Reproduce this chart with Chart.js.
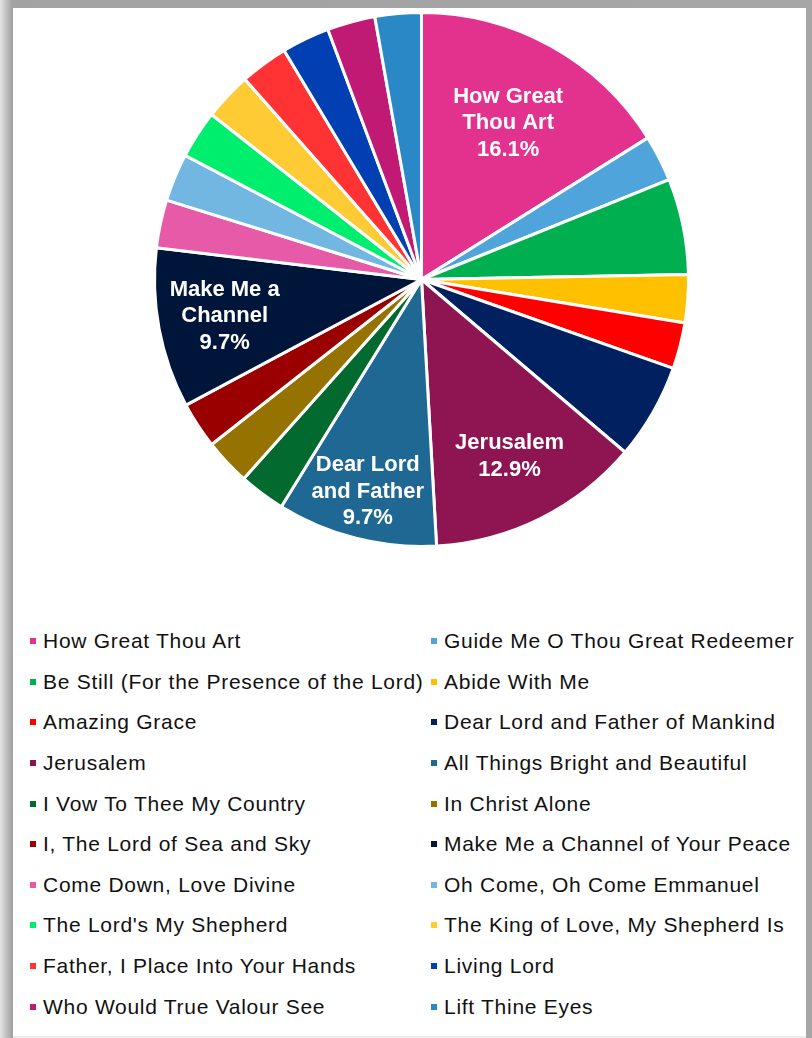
<!DOCTYPE html>
<html>
<head>
<meta charset="utf-8">
<script src="https://cdn.jsdelivr.net/npm/chart.js@4.4.1/dist/chart.umd.min.js"></script>
<style>
    html, body {
        margin: 0;
        padding: 0;
    }
    body {
        width: 812px;
        height: 1038px;
        position: relative;
        overflow: hidden;
        background: linear-gradient(to right, #e4e4e4 0px, #a2a2a2 12px, #a6a6a6 100%);
        font-family: "Liberation Sans", Arial, sans-serif;
    }
    .card {
        position: absolute;
        left: 13px;
        top: 8px;
        width: 793px;
        height: 1028px;
        background: #ffffff;
        border-bottom: 2px solid #ececec;
    }
    .chart-box {
        position: absolute;
        left: 0;
        top: 0;
        width: 812px;
        height: 560px;
    }
    #legend {
        position: absolute;
        left: 0;
        top: 621px;
        width: 812px;
        display: grid;
        grid-template-columns: 401px 411px;
        grid-auto-rows: 40.6px;
    }
    .legend-item {
        display: flex;
        align-items: center;
        padding-left: 30px;
        font-size: 21px;
        letter-spacing: 0.72px;
        color: #111;
        white-space: nowrap;
    }
    .legend-item span.box {
        width: 6px;
        height: 6px;
        margin-right: 7px;
        flex: none;
    }
</style>
</head>
<body>
<div class="card"></div>
<div class="chart-box"><canvas id="hymnChart"></canvas></div>
<div id="legend"></div>

<script>
// Judul lagu (urutan searah jarum jam dari atas)
const hymns = [
    'How Great Thou Art',
    'Guide Me O Thou Great Redeemer',
    'Be Still (For the Presence of the Lord)',
    'Abide With Me',
    'Amazing Grace',
    'Dear Lord and Father of Mankind',
    'Jerusalem',
    'All Things Bright and Beautiful',
    'I Vow To Thee My Country',
    'In Christ Alone',
    'I, The Lord of Sea and Sky',
    'Make Me a Channel of Your Peace',
    'Come Down, Love Divine',
    'Oh Come, Oh Come Emmanuel',
    "The Lord's My Shepherd",
    'The King of Love, My Shepherd Is',
    'Father, I Place Into Your Hands',
    'Living Lord',
    'Who Would True Valour See',
    'Lift Thine Eyes'
];

// Persentase tiap lagu
const shares = [16.1, 2.8, 5.8, 2.9, 2.8, 5.8, 12.9, 9.7, 2.8, 2.8, 2.8, 9.7, 2.9, 2.9, 2.9, 2.9, 2.9, 2.9, 2.9, 2.8];

// Warna tiap potongan
const sliceColors = [
    '#E3318E', '#4FA5DB', '#00B050', '#FFC000', '#FF0000',
    '#002060', '#8E1552', '#206894', '#036A2F', '#967200',
    '#9A0000', '#00153A', '#E75AA8', '#72B7E2', '#00EE6E',
    '#FECB34', '#FF3333', '#013FB2', '#C11A75', '#2A88C6'
];

// Label di dalam potongan (hanya yang besar)
const sliceLabels = {
    0: ['How Great', 'Thou Art'],
    6: ['Jerusalem'],
    7: ['Dear Lord', 'and Father'],
    11: ['Make Me a', 'Channel']
};

// Plugin sederhana untuk menggambar label di dalam pie
const insideLabels = {
    id: 'insideLabels',
    afterDatasetsDraw(chart, args, opts) {
        const ctx = chart.ctx;
        const meta = chart.getDatasetMeta(0);
        const values = chart.data.datasets[0].data;
        const total = values.reduce((a, b) => a + b, 0);

        ctx.save();
        ctx.fillStyle = '#ffffff';
        ctx.font = 'bold 22px "Liberation Sans", Arial, sans-serif';
        ctx.textAlign = 'center';
        ctx.textBaseline = 'middle';

        Object.keys(sliceLabels).forEach(key => {
            const i = Number(key);
            const arc = meta.data[i];
            const mid = (arc.startAngle + arc.endAngle) / 2;
            const dist = arc.outerRadius * (opts.radial[i] || 0.7);
            const cx = arc.x + Math.cos(mid) * dist;
            const cy = arc.y + Math.sin(mid) * dist;

            const lines = sliceLabels[i].concat([(values[i] / total * 100).toFixed(1) + '%']);
            const lh = 26.5;
            const top = cy - (lines.length - 1) * lh / 2;
            lines.forEach((line, n) => {
                ctx.fillText(line, cx, top + n * lh);
            });
        });
        ctx.restore();
    }
};

const ctxHymn = document.getElementById('hymnChart').getContext('2d');
let hymnChart = new Chart(ctxHymn, {
    type: 'pie',
    data: {
        labels: hymns,
        datasets: [{
            data: shares,
            backgroundColor: sliceColors,
            borderColor: '#ffffff',
            borderWidth: 3,
        }],
    },
    options: {
        responsive: true,
        maintainAspectRatio: false,
        animation: false,
        layout: {
            padding: { left: 153, right: 122, top: 11, bottom: 12 }
        },
        plugins: {
            legend: { display: false },
            tooltip: { enabled: false },
            insideLabels: {
                radial: { 0: 0.67, 6: 0.74, 7: 0.82, 11: 0.75 }
            }
        },
    },
    plugins: [insideLabels],
});

// Legenda HTML dua kolom, diambil dari item legenda chart
const legendBox = document.getElementById('legend');
const items = hymnChart.options.plugins.legend.labels.generateLabels(hymnChart);
items.forEach(item => {
    const row = document.createElement('div');
    row.className = 'legend-item';
    const box = document.createElement('span');
    box.className = 'box';
    box.style.background = item.fillStyle;
    const text = document.createElement('span');
    text.textContent = item.text;
    row.appendChild(box);
    row.appendChild(text);
    legendBox.appendChild(row);
});
</script>
</body>
</html>
